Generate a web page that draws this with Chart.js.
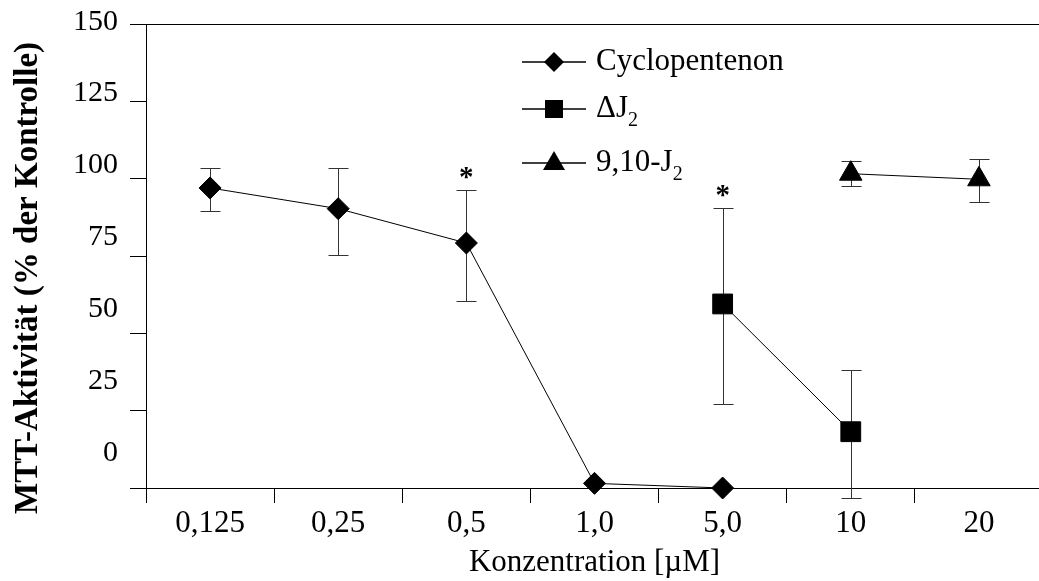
<!DOCTYPE html>
<html>
<head>
<meta charset="utf-8">
<script src="https://cdn.jsdelivr.net/npm/chart.js@4.4.1/dist/chart.umd.min.js"></script>
<style>
  html, body { margin: 0; padding: 0; overflow: hidden; background: #fff; }
  canvas { display: block; }
</style>
</head>
<body>
<canvas id="mtt-chart" width="1043" height="581"></canvas>
<script>
const labels = ['0,125', '0,25', '0,5', '1,0', '5,0', '10', '20'];
const yTicks = [0, 25, 50, 75, 100, 125, 150];

const cyclopentenon     = [97.0, 90.3, 79.2, 1.5, 0, null, null];
const cyclopentenonHigh = [103.5, 103.5, 96.4, null, null, null, null];
const cyclopentenonLow  = [89.6, 75.4, 60.3, null, null, null, null];
const cyclopentenonSig  = ['', '', '*', '', '', '', ''];

const deltaJ2     = [null, null, null, null, 59.5, 18.2, null];
const deltaJ2High = [null, null, null, null, 90.5, 38.2, null];
const deltaJ2Low  = [null, null, null, null, 27.2, -3.1, null];
const deltaJ2Sig  = ['', '', '', '', '*', '', ''];

const j2     = [null, null, null, null, null, 101.6, 99.8];
const j2High = [null, null, null, null, null, 105.6, 106.5];
const j2Low  = [null, null, null, null, null, 97.5, 92.5];
const j2Sig  = ['', '', '', '', '', '', ''];

const SERIF = "'Liberation Serif', 'Times New Roman', serif";
Chart.defaults.font.family = SERIF;
Chart.defaults.color = '#000';

// error bars behind the markers, asterisks on top
const errorBars = {
  id: 'errorBars',
  beforeDatasetsDraw(chart) {
    const { ctx, scales: { x, y } } = chart;
    ctx.save();
    ctx.strokeStyle = '#333';
    ctx.lineWidth = 1;
    chart.data.datasets.forEach(ds => {
      ds.data.forEach((v, i) => {
        if (v == null || ds.errHigh[i] == null) return;
        const px = Math.round(x.getPixelForValue(i)) + 0.5;
        const top = Math.round(y.getPixelForValue(ds.errHigh[i])) + 0.5;
        const bot = Math.round(y.getPixelForValue(ds.errLow[i])) + 0.5;
        ctx.beginPath();
        ctx.moveTo(px, top); ctx.lineTo(px, bot);
        ctx.moveTo(px - 10, top); ctx.lineTo(px + 10, top);
        ctx.moveTo(px - 10, bot); ctx.lineTo(px + 10, bot);
        ctx.stroke();
      });
    });
    ctx.restore();
  },
  afterDatasetsDraw(chart) {
    const { ctx, scales: { x, y } } = chart;
    ctx.save();
    ctx.fillStyle = '#000';
    ctx.font = 'bold 29px ' + SERIF;
    ctx.textAlign = 'center';
    ctx.textBaseline = 'alphabetic';
    chart.data.datasets.forEach(ds => {
      ds.sig.forEach((s, i) => {
        if (!s) return;
        const px = x.getPixelForValue(i);
        const top = y.getPixelForValue(ds.errHigh[i]);
        ctx.fillText(s, px, top - 4);
      });
    });
    ctx.restore();
  }
};

function drawMarker(ctx, style, cx, cy) {
  ctx.beginPath();
  if (style === 'rectRot') {
    ctx.moveTo(cx, cy - 10); ctx.lineTo(cx + 10, cy); ctx.lineTo(cx, cy + 10); ctx.lineTo(cx - 10, cy);
  } else if (style === 'rect') {
    ctx.rect(cx - 9, cy - 9, 18, 18);
  } else {
    ctx.moveTo(cx, cy - 12); ctx.lineTo(cx + 11, cy + 7); ctx.lineTo(cx - 11, cy + 7);
  }
  ctx.closePath();
  ctx.fill();
}

// legend inside the plot: line + marker + label with subscript "_2"
const insideLegend = {
  id: 'insideLegend',
  afterDraw(chart) {
    const { ctx } = chart;
    const rows = [62, 109, 163];
    ctx.save();
    ctx.fillStyle = '#000';
    ctx.strokeStyle = '#000';
    ctx.lineWidth = 1.5;
    chart.data.datasets.forEach((ds, k) => {
      const ly = rows[k];
      ctx.beginPath();
      ctx.moveTo(522, ly); ctx.lineTo(586, ly);
      ctx.stroke();
      drawMarker(ctx, ds.pointStyle, 554, ly);
      const parts = ds.label.split('_');
      ctx.textBaseline = 'alphabetic';
      ctx.textAlign = 'left';
      ctx.font = '31px ' + SERIF;
      ctx.fillText(parts[0], 596, ly + 8);
      if (parts[1]) {
        const w = ctx.measureText(parts[0]).width;
        ctx.font = '20px ' + SERIF;
        ctx.fillText(parts[1], 596 + w, ly + 17);
      }
    });
    ctx.restore();
  }
};

const yTitle = {
  id: 'yTitle',
  afterDraw(chart) {
    const { ctx } = chart;
    ctx.save();
    ctx.translate(28, 278);
    ctx.rotate(-Math.PI / 2);
    ctx.font = 'bold 33px ' + SERIF;
    ctx.fillStyle = '#000';
    ctx.textAlign = 'center';
    ctx.textBaseline = 'middle';
    ctx.fillText('MTT-Aktivität (% der Kontrolle)', 0, 0);
    ctx.restore();
  }
};

function series(label, data, high, low, sig, style, radius) {
  return {
    label, data, errHigh: high, errLow: low, sig,
    borderColor: '#000', backgroundColor: '#000', borderWidth: 1,
    pointStyle: style, pointRadius: radius, pointHoverRadius: radius,
    pointBorderWidth: 1, tension: 0, fill: false, clip: false
  };
}

const setTicks = s => { s.ticks = yTicks.map(v => ({ value: v })); };

new Chart(document.getElementById('mtt-chart'), {
  type: 'line',
  data: {
    labels: labels,
    datasets: [
      series('Cyclopentenon', cyclopentenon, cyclopentenonHigh, cyclopentenonLow, cyclopentenonSig, 'rectRot', 11),
      series('ΔJ_2', deltaJ2, deltaJ2High, deltaJ2Low, deltaJ2Sig, 'rect', 14),
      series('9,10-J_2', j2, j2High, j2Low, j2Sig, 'triangle', 13)
    ]
  },
  options: {
    responsive: false,
    animation: false,
    events: [],
    layout: { autoPadding: false, padding: { top: 24, left: 0, right: 0, bottom: 0 } },
    plugins: {
      legend: { display: false },
      tooltip: { enabled: false }
    },
    scales: {
      x: {
        offset: true,
        grid: { offset: true, drawOnChartArea: false, tickLength: 15, color: '#000', tickColor: '#000' },
        border: { color: '#000' },
        ticks: { color: '#000', font: { size: 31 }, padding: 2, maxRotation: 0, autoSkip: false },
        title: { display: true, text: 'Konzentration [µM]', color: '#000', font: { size: 31 }, padding: { top: 0, bottom: 0 } },
        afterFit(s) { s.height = 93; s.paddingLeft = 0; s.paddingRight = 0; }
      },
      y: {
        position: 'left',
        weight: 0,
        min: 0,
        max: 150,
        afterBuildTicks: setTicks,
        grid: {
          tickLength: 16,
          tickColor: '#000',
          color: c => (c.tick && c.tick.value === 150 ? '#000' : 'rgba(0,0,0,0)')
        },
        border: { color: '#000' },
        ticks: { display: false },
        afterFit(s) { s.width = 16; s.paddingTop = 0; s.paddingBottom = 0; }
      },
      yLabels: {
        position: 'left',
        weight: 1,
        min: -12.2,
        max: 149.2,
        afterBuildTicks: setTicks,
        grid: { display: false, drawTicks: false },
        border: { display: false },
        ticks: { color: '#000', font: { size: 30 }, padding: 12, autoSkip: false },
        afterFit(s) { s.width = 130; s.paddingTop = 0; s.paddingBottom = 0; }
      }
    }
  },
  plugins: [errorBars, insideLegend, yTitle]
});
</script>
</body>
</html>
